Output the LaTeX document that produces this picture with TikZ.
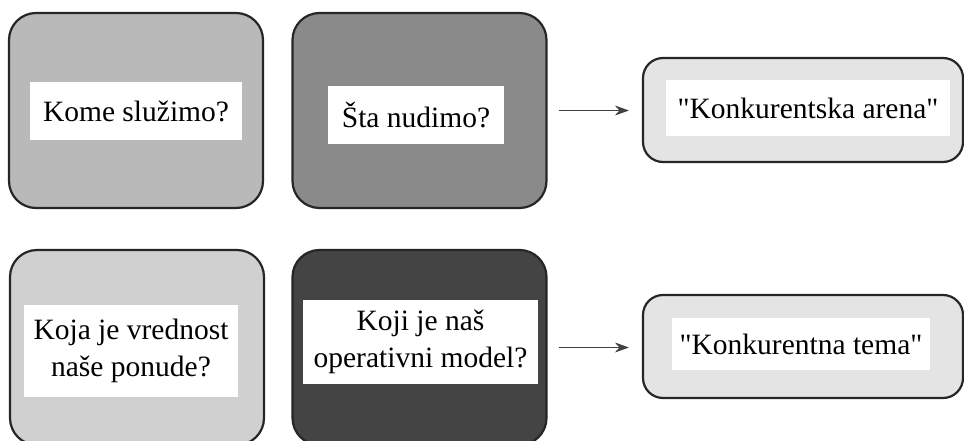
\documentclass[tikz,border=0pt]{standalone}
\usepackage{fontspec}
\setmainfont{Liberation Serif}
\usetikzlibrary{arrows.meta}
\definecolor{shadeA}{HTML}{B9B9B9}
\definecolor{shadeB}{HTML}{8A8A8A}
\definecolor{shadeC}{HTML}{E4E4E4}
\definecolor{shadeD}{HTML}{D0D0D0}
\definecolor{shadeE}{HTML}{444444}
\begin{document}
\begin{tikzpicture}[x=1pt, y=-1pt,
    bigbox/.style={draw=black!85, line width=2.2pt, rounded corners=27pt,
        minimum width=254pt, minimum height=195pt, inner sep=0pt},
    resbox/.style={draw=black!85, line width=2.2pt, rounded corners=20pt,
        minimum width=320pt, minimum height=104pt, inner sep=0pt},
    label/.style={fill=white, inner sep=0pt, align=center,
        font=\fontsize{29.5}{37}\selectfont},
    link/.style={draw=black!75, line width=1.3pt,
        -{Stealth[length=14pt, width=10pt]}}]
    \useasboundingbox (0,0) rectangle (964,441);
    % top row
    \node[bigbox, fill=shadeA] (serve) at (136,110.5) {};
    \node[bigbox, fill=shadeB] (offer) at (419.5,110.5) {};
    \node[resbox, fill=shadeC] (arena) at (803,110) {};
    \node[label, minimum width=212pt, minimum height=58pt] (serveT) at (136,111) {Kome služimo?};
    \node[label, minimum width=176pt, minimum height=58pt] (offerT) at (416,115) {Šta nudimo?};
    \node[label, minimum width=284pt, minimum height=56pt] (arenaT) at (808,108) {\textquotedbl Konkurentska arena\textquotedbl};
    \draw[link, shorten <=11pt, shorten >=13pt] (offer.east) -- (offer.east -| arena.west);
    % bottom row
    \node[bigbox, fill=shadeD] (value) at (137,347.5) {};
    \node[bigbox, fill=shadeE] (model) at (419.5,347.5) {};
    \node[resbox, fill=shadeC, minimum height=103pt] (theme) at (803,346.5) {};
    \node[label, minimum width=214pt, minimum height=92pt] (valueT) at (131,351) {Koja je vrednost\\naše ponude?};
    \node[label, minimum width=235pt, minimum height=84pt] (modelT) at (420.5,342) {Koji je naš\\operativni model?};
    \node[label, minimum width=258pt, minimum height=52pt] (themeT) at (801,344) {\textquotedbl Konkurentna tema\textquotedbl};
    \draw[link, shorten <=11pt, shorten >=13pt] (model.east) -- (model.east -| theme.west);
\end{tikzpicture}
\end{document}
